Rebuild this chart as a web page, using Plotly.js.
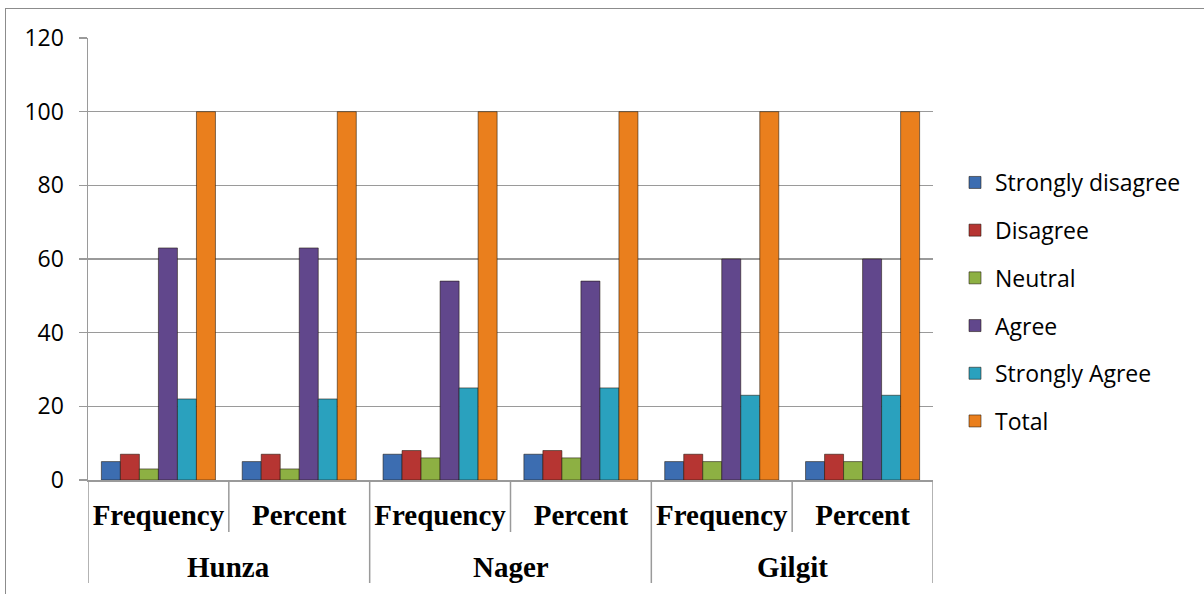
<!DOCTYPE html>
<html>
<head>
<meta charset="utf-8">
<script src="https://cdn.plot.ly/plotly-3.0.1.min.js"></script>
<style>
  html, body { margin: 0; padding: 0; background: #fff; }
  #frame { position: absolute; left: 5px; top: 8px; width: 1300px; height: 700px;
           border: 1.5px solid #8c8c8c; box-sizing: border-box; }
  #chart { position: absolute; left: 0; top: 0; width: 1204px; height: 594px; }
</style>
</head>
<body>
<div id="frame"></div>
<div id="chart"></div>
<script>
// Regions and the two measures shown for each
const regionNames = ["Hunza", "Nager", "Gilgit"];
const measures = ["Frequency", "Percent", "Frequency", "Percent", "Frequency", "Percent"];

// Response categories
const seriesNames = ["Strongly disagree", "Disagree", "Neutral", "Agree", "Strongly Agree", "Total"];

// Values per region/measure
const stronglyDisagree = [5, 5, 7, 7, 5, 5];
const disagree = [7, 7, 8, 8, 7, 7];
const neutral = [3, 3, 6, 6, 5, 5];
const agree = [63, 63, 54, 54, 60, 60];
const stronglyAgree = [22, 22, 25, 25, 23, 23];
const total = [100, 100, 100, 100, 100, 100];

const seriesValues = [stronglyDisagree, disagree, neutral, agree, stronglyAgree, total];
const seriesColors = ["#3c6db1", "#b63532", "#8db043", "#61478c", "#2aa1be", "#ea7f1d"];

// one slot per measure column on a shared numeric axis
const slots = measures.map((_, i) => i);
const perRegion = measures.length / regionNames.length;

const traces = seriesNames.map((name, i) => ({
  type: "bar",
  name: name,
  x: slots,
  y: seriesValues[i],
  legendgroup: "g" + i,
  marker: { color: seriesColors[i], line: { color: "rgba(30,20,10,0.55)", width: 1 } },
  hoverinfo: "skip"
}));

const gridColor = "#9a9a9a";
const plotH = 594 - 38 - 114;

// boundary lines under the axis: short between measures, long between regions
const shapes = [];
for (let b = 0; b <= measures.length; b++) {
  const isRegionEdge = b % perRegion === 0;
  shapes.push({
    type: "line", xref: "x", yref: "paper",
    x0: b - 0.5, x1: b - 0.5,
    y0: 0, y1: -(isRegionEdge ? 103 : 52) / plotH,
    line: { color: gridColor, width: 1.5 }
  });
}

// region names centred under their pair of columns
const annotations = regionNames.map((r, k) => ({
  text: "<b>" + r + "</b>",
  xref: "x", yref: "paper",
  x: k * perRegion + (perRegion - 1) / 2,
  y: -87 / plotH,
  xanchor: "center", yanchor: "middle",
  showarrow: false,
  font: { family: "Liberation Serif", size: 29, color: "#000" }
}));

const layout = {
  width: 1204,
  height: 594,
  paper_bgcolor: "rgba(0,0,0,0)",
  plot_bgcolor: "rgba(0,0,0,0)",
  margin: { l: 88, r: 271, t: 38, b: 114 },
  barmode: "group",
  bargap: 0.19,
  bargroupgap: 0,
  showlegend: true,
  shapes: shapes,
  annotations: annotations,
  legend: {
    xref: "container", yref: "container",
    x: 955 / 1204, y: 1 - 161 / 594,
    xanchor: "left", yanchor: "top",
    traceorder: "grouped",
    tracegroupgap: 14.8,
    font: { family: "Open Sans", size: 23, color: "#000" },
    bgcolor: "rgba(0,0,0,0)"
  },
  xaxis: {
    range: [-0.5, measures.length - 0.5],
    tickmode: "array",
    tickvals: slots,
    ticktext: measures.map(m => "<b>" + m + "</b>"),
    showline: true, linecolor: gridColor, linewidth: 1.5,
    ticks: "",
    ticklabelstandoff: 9,
    showgrid: false, zeroline: false,
    tickfont: { family: "Liberation Serif", size: 29, color: "#000" }
  },
  yaxis: {
    range: [0, 120],
    dtick: 20,
    showline: true, linecolor: gridColor, linewidth: 1.5,
    showgrid: true, gridcolor: gridColor, gridwidth: 1.5,
    zeroline: false,
    ticks: "outside", ticklen: 8, tickwidth: 1.5, tickcolor: gridColor,
    ticklabelstandoff: 10,
    tickfont: { family: "Open Sans", size: 23, color: "#000" }
  }
};

Plotly.newPlot("chart", traces, layout, { displayModeBar: false, staticPlot: true });
</script>
</body>
</html>
